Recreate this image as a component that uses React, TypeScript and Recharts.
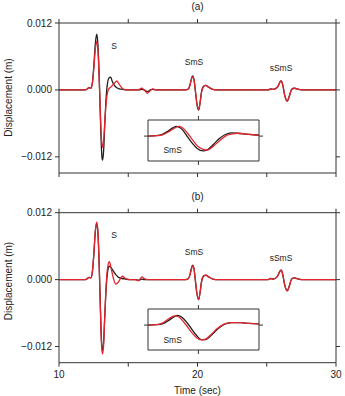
import React from 'react';
import { LineChart, Line, XAxis, YAxis, ReferenceDot } from 'recharts';

const FONT = '"Liberation Sans", Arial, Helvetica, sans-serif';
const BLACK = '#1c1c1c';
const RED = '#e3262d';
const AXIS = '#333333';
const TEXT = '#222222';

// ---------- axes ----------
const xTicks = [10, 15, 20, 25, 30];
const xLabelTicks = [10, 20, 30];
const yTicks = [-0.012, 0, 0.012];
const insetXTicks = [20];
const insetYTicks = [0];
const panelTitles = ['(a)', '(b)'];
const yTitle = 'Displacement (m)';
const xTitle = 'Time (sec)';

// ---------- phase labels ----------
const phaseNames = ['S', 'SmS', 'sSmS'];
const phaseLabelTimes = [13.97, 19.75, 26.03];
const phaseLabelValuesA = [0.0079, 0.005, 0.0039];
const phaseLabelValuesB = [0.008, 0.005, 0.0038];
const insetLabel = 'SmS';
const insetLabelTime = 19.57;
const insetLabelValueA = -0.0035;
const insetLabelValueB = -0.0036;

// ---------- panel (a) ----------
const timeA = [
  10, 11.8, 12.0, 12.17, 12.3, 12.42, 12.52, 12.62, 12.72, 12.8, 12.88, 12.96, 13.04, 13.1, 13.15, 13.22, 13.3, 13.4, 13.5, 13.6, 13.73, 13.85, 14.0, 14.17, 14.35, 14.6, 14.9, 15.6, 15.8, 15.97, 16.15, 16.38, 16.6, 16.76, 17.0,
  19.0, 19.3, 19.45, 19.55, 19.65, 19.75, 19.84, 19.95, 20.08, 20.18, 20.3, 20.45, 20.6, 20.8, 21.1, 21.5,
  25.1, 25.3, 25.45, 25.6, 25.8, 25.95, 26.05, 26.18, 26.3, 26.48, 26.62, 26.8, 27.0, 27.3, 27.7, 30,
];
const blackA = [
  0, 0, 0.0001, 0.0004, 0.0003, 0.0015, 0.0045, 0.0082, 0.01, 0.0085, 0.004, -0.0025, -0.009, -0.012, -0.0126, -0.011, -0.0065, -0.0015, 0.0012, 0.0021, 0.0023, 0.0015, 0.0008, 0.0004, 0.0002, 0.0001, 0, 0, 0, 0.0001, 0, -0.0003, 0, 0.0001, 0,
  0, 0.0001, 0.0008, 0.0019, 0.0025, 0.0018, 0.0, -0.0024, -0.0036, -0.0024, -0.0002, 0.0007, 0.0008, 0.0005, 0.0001, 0,
  0, 0.0002, 0.0001, 0.0002, 0.0006, 0.0014, 0.0016, 0.0006, -0.001, -0.002, -0.0012, 0.0001, 0.0003, 0.0001, 0, 0,
];
const redA = [
  0, 0, 0.0001, 0.0004, 0.0003, 0.0013, 0.004, 0.0072, 0.0087, 0.0075, 0.0035, -0.002, -0.0075, -0.0097, -0.0103, -0.0092, -0.006, -0.0025, -0.0005, 0.0002, 0.0005, 0.0008, 0.0012, 0.0016, 0.001, 0.0002, 0, 0, 0.0001, 0.0003, 0, -0.0006, -0.0001, 0.0002, 0,
  0, 0.0001, 0.0008, 0.0018, 0.0024, 0.0018, 0.0, -0.0023, -0.0035, -0.0024, -0.0003, 0.0006, 0.0008, 0.0005, 0.0001, 0,
  0, 0.0002, 0.0001, 0.0002, 0.0006, 0.0014, 0.0016, 0.0006, -0.001, -0.002, -0.0012, 0.0001, 0.0003, 0.0001, 0, 0,
];

// ---------- panel (b) ----------
const timeB = [
  10, 11.8, 12.0, 12.17, 12.3, 12.42, 12.52, 12.62, 12.72, 12.8, 12.88, 12.96, 13.04, 13.1, 13.15, 13.22, 13.3, 13.4, 13.5, 13.63, 13.75, 13.9, 14.1, 14.3, 14.57, 14.8, 15.1, 15.5, 15.73, 15.88, 16.0, 16.15, 16.4, 17.0,
  19.0, 19.3, 19.45, 19.55, 19.65, 19.75, 19.84, 19.95, 20.08, 20.18, 20.3, 20.45, 20.6, 20.8, 21.1, 21.5,
  25.1, 25.3, 25.45, 25.6, 25.8, 25.95, 26.05, 26.18, 26.3, 26.48, 26.62, 26.8, 27.0, 27.3, 27.7, 30,
];
const blackB = [
  0, 0, 0.0001, 0.0004, 0.0003, 0.0016, 0.0047, 0.0085, 0.0101, 0.0088, 0.0042, -0.0025, -0.0092, -0.0122, -0.0127, -0.0112, -0.0068, -0.0018, 0.0012, 0.0024, 0.0022, 0.0016, 0.0009, 0.0004, 0.0002, 0.0001, 0, 0, -0.0001, 0, 0.0001, 0, 0, 0,
  0, 0.0001, 0.0008, 0.0019, 0.0026, 0.0019, 0.0, -0.0024, -0.0036, -0.0024, -0.0002, 0.0007, 0.0008, 0.0005, 0.0001, 0,
  0, 0.0002, 0.0001, 0.0002, 0.0007, 0.0015, 0.0017, 0.0006, -0.001, -0.002, -0.0012, 0.0001, 0.0003, 0.0001, 0, 0,
];
const redB = [
  0, 0, 0.0001, 0.0004, 0.0003, 0.0016, 0.0048, 0.0087, 0.0103, 0.009, 0.0045, -0.0025, -0.0098, -0.0128, -0.0133, -0.0118, -0.007, -0.0012, 0.002, 0.0032, 0.0022, 0.0005, -0.0008, -0.0004, 0.0006, 0.0002, 0, 0, -0.0002, 0.0002, 0.0005, 0.0002, 0, 0,
  0, 0.0001, 0.0008, 0.0018, 0.0025, 0.0019, 0.0, -0.0023, -0.0036, -0.0024, -0.0003, 0.0006, 0.0008, 0.0005, 0.0001, 0,
  0, 0.0002, 0.0001, 0.0002, 0.0007, 0.0015, 0.0017, 0.0006, -0.001, -0.002, -0.0012, 0.0001, 0.0003, 0.0001, 0, 0,
];

// ---------- insets (SmS zoom) ----------
const insetTimeA = [19.16, 19.3, 19.4, 19.5, 19.58, 19.63, 19.68, 19.75, 19.82, 19.9, 19.98, 20.08, 20.15, 20.25, 20.35, 20.45, 20.55, 20.65, 20.8, 21.01];
const insetBlackA = [0, 0.0001, 0.0004, 0.0013, 0.0021, 0.0024, 0.0022, 0.0013, -0.0002, -0.0018, -0.0031, -0.0037, -0.0034, -0.0021, -0.0006, 0.0004, 0.0008, 0.0007, 0.0005, 0.0002];
const insetRedA = [0, 0.0001, 0.0003, 0.001, 0.0018, 0.0022, 0.0024, 0.0019, 0.0007, -0.0009, -0.0024, -0.0033, -0.0035, -0.0025, -0.0012, 0.0, 0.0005, 0.0007, 0.0005, 0.0002];
const insetTimeB = [19.16, 19.3, 19.4, 19.5, 19.6, 19.65, 19.72, 19.8, 19.88, 19.96, 20.05, 20.12, 20.22, 20.32, 20.42, 20.55, 20.7, 20.85, 21.01];
const insetBlackB = [0, 0.0001, 0.0003, 0.0011, 0.0021, 0.0024, 0.002, 0.0008, -0.0008, -0.0024, -0.0036, -0.0036, -0.0025, -0.001, 0.0001, 0.0006, 0.0006, 0.0004, 0.0003];
const insetRedB = [0, 0.0001, 0.0005, 0.0015, 0.0023, 0.0022, 0.0014, -0.0001, -0.0017, -0.003, -0.0037, -0.0035, -0.0022, -0.0008, 0.0002, 0.0006, 0.0006, 0.0004, 0.0003];

const build = (t: number[], b: number[], r: number[]) => t.map((x, i) => ({ t: x, black: b[i], red: r[i] }));

const dataA = build(timeA, blackA, redA);
const dataB = build(timeB, blackB, redB);
const insetDataA = build(insetTimeA, insetBlackA, insetRedA);
const insetDataB = build(insetTimeB, insetBlackB, insetRedB);

const emptyTick = () => <g />;
const fmtY = (v: number) => (v === 0 ? '0.000' : (v < 0 ? '\u2212' : '') + Math.abs(v).toFixed(3));

const textShape = (label: string, size: number) => (p: any) => (
  <text x={p.cx} y={p.cy} dy="0.35em" textAnchor="middle" fontSize={size} fontFamily={FONT} fill={TEXT}>
    {label}
  </text>
);

function Panel({ data, top, height, topH, bottomH, showX, labelValues }: any) {
  return (
    <div style={{ position: 'absolute', left: 0, top, width: 345, height }}>
      <LineChart width={345} height={height} data={data} margin={{ top: 0, right: 0, bottom: 0, left: 0 }}>
        <XAxis
          xAxisId="b"
          dataKey="t"
          type="number"
          domain={[10, 30]}
          allowDataOverflow
          ticks={xTicks}
          orientation="bottom"
          height={bottomH}
          tickSize={4}
          tickMargin={4}
          stroke={AXIS}
          tick={showX ? { fill: TEXT, fontSize: 10, fontFamily: FONT } : emptyTick}
          tickFormatter={(v: number) => (xLabelTicks.includes(v) ? String(v) : '')}
        />
        <XAxis
          xAxisId="t"
          dataKey="t"
          type="number"
          domain={[10, 30]}
          allowDataOverflow
          ticks={xTicks}
          orientation="top"
          height={topH}
          tickSize={4}
          stroke={AXIS}
          tick={emptyTick}
        />
        <YAxis
          yAxisId="l"
          type="number"
          domain={[-0.0149, 0.012]}
          allowDataOverflow
          ticks={yTicks}
          width={59}
          tickSize={4}
          tickMargin={3}
          stroke={AXIS}
          tick={{ fill: TEXT, fontSize: 10, fontFamily: FONT }}
          tickFormatter={fmtY}
        />
        <YAxis
          yAxisId="r"
          orientation="right"
          type="number"
          domain={[-0.0149, 0.012]}
          allowDataOverflow
          ticks={yTicks}
          width={9}
          tickSize={4}
          stroke={AXIS}
          tick={emptyTick}
        />
        <Line xAxisId="b" yAxisId="l" type="monotone" dataKey="black" stroke={BLACK} strokeWidth={1.3} dot={false} isAnimationActive={false} />
        <Line xAxisId="b" yAxisId="l" type="monotone" dataKey="red" stroke={RED} strokeWidth={1.3} dot={false} isAnimationActive={false} />
        {phaseNames.map((n, i) => (
          <ReferenceDot
            key={n}
            xAxisId="b"
            yAxisId="l"
            x={phaseLabelTimes[i]}
            y={labelValues[i]}
            r={0}
            ifOverflow="visible"
            shape={textShape(n, 8.5)}
          />
        ))}
      </LineChart>
    </div>
  );
}

function Inset({ data, left, top, labelValue }: any) {
  return (
    <div style={{ position: 'absolute', left, top, width: 123, height: 53 }}>
      <LineChart width={123} height={53} data={data} margin={{ top: 0, right: 0, bottom: 0, left: 0 }}>
        <XAxis xAxisId="b" dataKey="t" type="number" domain={[19.16, 21.01]} allowDataOverflow ticks={insetXTicks} orientation="bottom" height={6} tickSize={4} stroke={AXIS} tick={emptyTick} />
        <XAxis xAxisId="t" dataKey="t" type="number" domain={[19.16, 21.01]} allowDataOverflow ticks={insetXTicks} orientation="top" height={6} tickSize={4} stroke={AXIS} tick={emptyTick} />
        <YAxis yAxisId="l" type="number" domain={[-0.0062, 0.004]} allowDataOverflow ticks={insetYTicks} width={6} tickSize={4} stroke={AXIS} tick={emptyTick} />
        <YAxis yAxisId="r" orientation="right" type="number" domain={[-0.0062, 0.004]} allowDataOverflow ticks={insetYTicks} width={6} tickSize={4} stroke={AXIS} tick={emptyTick} />
        <Line xAxisId="b" yAxisId="l" type="monotone" dataKey="black" stroke={BLACK} strokeWidth={1.3} dot={false} isAnimationActive={false} />
        <Line xAxisId="b" yAxisId="l" type="monotone" dataKey="red" stroke={RED} strokeWidth={1.3} dot={false} isAnimationActive={false} />
        <ReferenceDot xAxisId="b" yAxisId="l" x={insetLabelTime} y={labelValue} r={0} ifOverflow="visible" shape={textShape(insetLabel, 8.5)} />
      </LineChart>
    </div>
  );
}

export default function App() {
  return (
    <div style={{ position: 'absolute', left: 0, top: 0, width: 345, height: 396, background: '#fff', fontFamily: FONT }}>
      <Panel data={dataA} top={0} height={190} topH={23} bottomH={17} showX={false} labelValues={phaseLabelValuesA} />
      <Panel data={dataB} top={190} height={206} topH={22.7} bottomH={33.3} showX={true} labelValues={phaseLabelValuesB} />
      <Inset data={insetDataA} left={142.3} top={114} labelValue={insetLabelValueA} />
      <Inset data={insetDataB} left={142.3} top={303.3} labelValue={insetLabelValueB} />
      <svg width={345} height={396} style={{ position: 'absolute', left: 0, top: 0, pointerEvents: 'none' }}>
        <text x={197.5} y={10} textAnchor="middle" fontSize={10} fontFamily={FONT} fill={TEXT}>{panelTitles[0]}</text>
        <text x={197.5} y={199.5} textAnchor="middle" fontSize={10} fontFamily={FONT} fill={TEXT}>{panelTitles[1]}</text>
        <text x={12} y={97.5} transform="rotate(-90 12 97.5)" textAnchor="middle" fontSize={10} fontFamily={FONT} fill={TEXT}>{yTitle}</text>
        <text x={12} y={281} transform="rotate(-90 12 281)" textAnchor="middle" fontSize={10} fontFamily={FONT} fill={TEXT}>{yTitle}</text>
        <text x={197.5} y={393.5} textAnchor="middle" fontSize={10} fontFamily={FONT} fill={TEXT}>{xTitle}</text>
      </svg>
    </div>
  );
}
